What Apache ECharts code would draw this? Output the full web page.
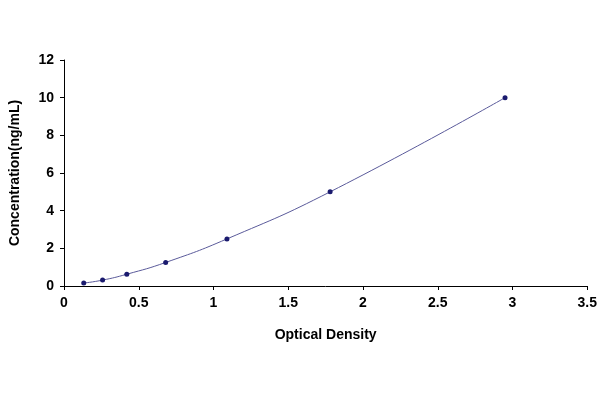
<!DOCTYPE html>
<html><head><meta charset="utf-8">
<script src="https://cdn.jsdelivr.net/npm/echarts@6/dist/echarts.min.js"></script>
<style>html,body{margin:0;background:#fff}#c{width:600px;height:400px}</style>
</head><body><div id="c"></div>
<script>
const od = [0.132, 0.258, 0.42, 0.68, 1.09, 1.78, 2.95];
const conc = [0.156, 0.312, 0.625, 1.25, 2.5, 5, 10];
const chart = echarts.init(document.getElementById('c'));
const f = 'Liberation Sans, Arial, sans-serif';
chart.setOption({
  animation: false,
  grid: {left: 58, right: 12, top: 60, bottom: 114},
  xAxis: {type: 'value', min: 0, max: 3.5, interval: 0.5,
    name: 'Optical Density', nameLocation: 'middle', nameGap: 42,
    nameTextStyle: {fontFamily: f, fontWeight: 'bold', fontSize: 14, color: '#000'},
    axisLine: {lineStyle: {color: '#000'}}, axisTick: {show: true, length: 4, lineStyle: {color: '#000'}},
    axisLabel: {fontFamily: f, fontWeight: 'bold', fontSize: 14, color: '#000', margin: 10},
    splitLine: {show: false}},
  yAxis: {type: 'value', min: 0, max: 12, interval: 2,
    name: 'Concentration(ng/mL)', nameLocation: 'middle', nameGap: 42,
    nameTextStyle: {fontFamily: f, fontWeight: 'bold', fontSize: 14, color: '#000'},
    axisLine: {show: true, lineStyle: {color: '#000'}}, axisTick: {show: true, length: 4, lineStyle: {color: '#000'}},
    axisLabel: {fontFamily: f, fontWeight: 'bold', fontSize: 14, color: '#000', margin: 10},
    splitLine: {show: false}},
  series: [{type: 'line', smooth: true, data: od.map((x, i) => [x, conc[i]]),
    symbol: 'circle', symbolSize: 5,
    itemStyle: {color: '#1a1a6e'}, lineStyle: {color: '#5a5a9a', width: 1}}]
});
</script></body></html>
